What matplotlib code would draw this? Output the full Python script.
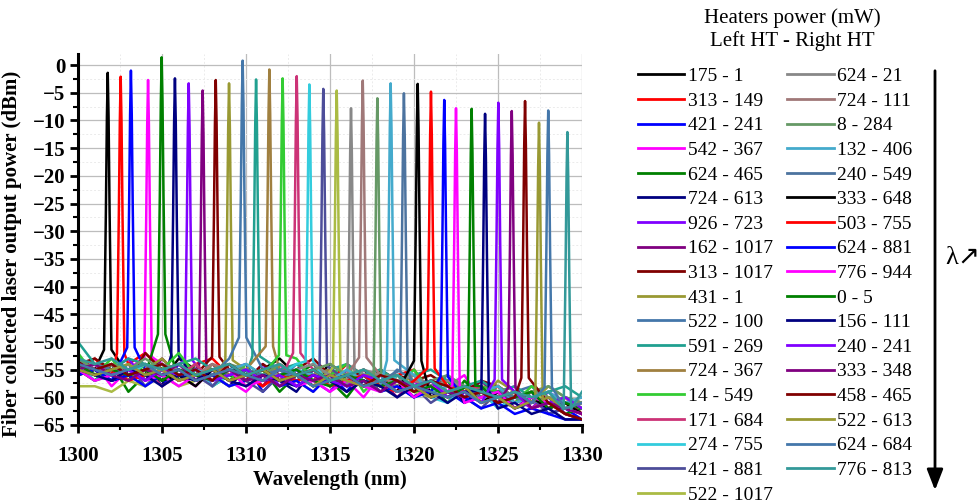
import numpy as np
import matplotlib
matplotlib.use("Agg")
import matplotlib.pyplot as plt
from matplotlib.ticker import MultipleLocator

# ---------------- data ----------------
labels = ["175 - 1", "313 - 149", "421 - 241", "542 - 367", "624 - 465", "724 - 613",
          "926 - 723", "162 - 1017", "313 - 1017", "431 - 1", "522 - 100", "591 - 269",
          "724 - 367", "14 - 549", "171 - 684", "274 - 755", "421 - 881", "522 - 1017",
          "624 - 21", "724 - 111", "8 - 284", "132 - 406", "240 - 549", "333 - 648",
          "503 - 755", "624 - 881", "776 - 944", "0 - 5", "156 - 111", "240 - 241",
          "333 - 348", "458 - 465", "522 - 613", "624 - 684", "776 - 813"]

colors = ["#000000", "#FF0000", "#0000FF", "#FF00FF", "#008000", "#000080",
          "#8000FF", "#800080", "#800000", "#999933", "#4477AA", "#20A090",
          "#A08040", "#33CC33", "#CC3377", "#33CCDD", "#4D4D99", "#AABB44",
          "#888888", "#A07878", "#669966", "#44AACC", "#4C739F", "#000000",
          "#FF0000", "#0000FF", "#FF00FF", "#008000", "#000080", "#8000FF",
          "#800080", "#800000", "#999933", "#4477AA", "#339999"]

peak_wl = [1301.77, 1302.54, 1303.15, 1304.17, 1304.98, 1305.77, 1306.59, 1307.42,
           1308.20, 1308.99, 1309.80, 1310.60, 1311.39, 1312.18, 1313.02, 1313.77,
           1314.60, 1315.40, 1316.25, 1316.95, 1317.82, 1318.61, 1319.40, 1320.22,
           1321.01, 1321.80, 1322.50, 1323.43, 1324.23, 1325.02, 1325.82, 1326.61,
           1327.44, 1327.99, 1329.13]

peak_pw = [-1.4, -2.1, -1.0, -2.7, 1.4, -2.4, -3.3, -4.6, -2.7, -3.3, 0.8, -2.6,
           -0.8, -2.4, -2.0, -3.5, -4.3, -4.6, -7.8, -2.8, -6.0, -3.3, -5.1, -3.4,
           -4.8, -6.3, -7.8, -7.9, -8.8, -6.8, -8.3, -6.5, -10.4, -8.2, -12.1]

# noise-floor samples, one per nm from 1300 to 1330
base_wl = [1300, 1301, 1302, 1303, 1304, 1305, 1306, 1307, 1308, 1309, 1310,
           1311, 1312, 1313, 1314, 1315, 1316, 1317, 1318, 1319, 1320,
           1321, 1322, 1323, 1324, 1325, 1326, 1327, 1328, 1329, 1330]

base_pw = [
    [-53,-55,-52,-56,-54,-57,-53,-55,-56,-54,-57,-55,-53,-56,-57,-54,-56,-58,-55,-57,-56,-58,-57,-59,-58,-60,-59,-61,-60,-62,-61],
    [-55,-53,-56,-54,-52,-55,-57,-54,-53,-56,-55,-58,-54,-56,-55,-57,-54,-56,-59,-56,-55,-59,-57,-58,-60,-58,-61,-59,-62,-60,-63],
    [-54,-56,-57,-53,-55,-58,-54,-56,-57,-55,-54,-59,-56,-55,-58,-56,-59,-55,-57,-58,-60,-57,-59,-61,-58,-62,-60,-59,-63,-62,-64],
    [-56,-54,-58,-55,-57,-54,-56,-58,-55,-57,-59,-56,-54,-58,-57,-55,-57,-60,-56,-59,-57,-60,-58,-56,-61,-59,-58,-62,-61,-60,-62],
    [-55,-57,-54,-59,-56,-55,-57,-54,-58,-56,-57,-55,-59,-56,-54,-57,-60,-56,-58,-56,-59,-58,-61,-57,-60,-59,-62,-60,-61,-63,-62],
    [-54,-55,-57,-56,-54,-58,-55,-57,-56,-58,-55,-56,-57,-59,-55,-58,-56,-57,-59,-57,-60,-58,-57,-61,-59,-60,-62,-61,-60,-63,-64],
    [-53,-56,-55,-53,-57,-56,-54,-55,-58,-55,-57,-54,-58,-55,-57,-59,-55,-58,-56,-58,-57,-59,-60,-58,-59,-61,-60,-62,-59,-61,-62],
    [-55,-54,-56,-55,-57,-53,-56,-55,-54,-57,-56,-58,-55,-57,-56,-55,-58,-56,-57,-60,-57,-58,-59,-60,-57,-60,-61,-59,-62,-61,-63],
    [-54,-53,-55,-57,-52,-55,-54,-56,-53,-55,-57,-54,-56,-55,-53,-56,-57,-55,-58,-56,-57,-56,-58,-59,-57,-58,-60,-59,-61,-62,-63],
    [-56,-55,-54,-56,-55,-53,-56,-54,-57,-56,-55,-57,-54,-56,-58,-55,-57,-56,-55,-58,-56,-59,-57,-58,-60,-57,-59,-61,-58,-60,-62],
    [-53,-55,-54,-56,-55,-54,-57,-55,-56,-53,-56,-55,-57,-54,-56,-55,-57,-56,-58,-55,-57,-58,-56,-59,-58,-60,-59,-58,-61,-60,-61],
    [-50,-54,-55,-53,-54,-55,-54,-53,-55,-54,-56,-54,-55,-54,-56,-55,-54,-56,-55,-57,-56,-55,-57,-58,-57,-59,-58,-60,-59,-58,-60],
    [-55,-54,-56,-55,-54,-56,-55,-57,-54,-56,-55,-56,-55,-57,-56,-55,-57,-56,-56,-58,-57,-58,-57,-59,-58,-59,-60,-59,-61,-60,-61],
    [-52,-56,-53,-57,-54,-55,-52,-56,-55,-57,-54,-56,-55,-53,-57,-56,-54,-59,-56,-58,-55,-59,-57,-60,-58,-59,-61,-58,-60,-61,-62],
    [-55,-56,-54,-57,-55,-58,-56,-54,-57,-55,-58,-56,-57,-59,-55,-57,-56,-58,-57,-59,-58,-57,-60,-59,-58,-61,-59,-62,-60,-61,-63],
    [-54,-57,-55,-56,-54,-57,-56,-55,-58,-56,-55,-57,-56,-54,-57,-58,-56,-57,-59,-56,-58,-60,-61,-58,-59,-62,-60,-59,-61,-60,-62],
    [-55,-57,-56,-54,-58,-55,-57,-56,-58,-55,-57,-59,-56,-57,-55,-58,-57,-56,-59,-57,-58,-61,-59,-60,-62,-59,-61,-60,-63,-62,-63],
    [-58,-58,-59,-57,-58,-56,-58,-57,-56,-58,-57,-56,-58,-57,-59,-57,-58,-57,-59,-58,-59,-60,-58,-60,-59,-61,-60,-59,-61,-60,-62],
    [-54,-55,-54,-55,-56,-54,-55,-56,-55,-54,-56,-55,-56,-55,-54,-56,-57,-55,-56,-57,-56,-58,-57,-58,-59,-58,-60,-59,-60,-61,-60],
    [-55,-54,-56,-55,-54,-57,-55,-56,-54,-55,-57,-56,-55,-56,-55,-58,-56,-57,-56,-58,-57,-58,-59,-58,-59,-60,-59,-61,-60,-61,-62],
    [-53,-55,-54,-55,-53,-55,-54,-56,-55,-54,-55,-56,-54,-56,-55,-54,-56,-55,-57,-56,-58,-57,-56,-58,-59,-58,-60,-59,-58,-60,-61],
    [-54,-56,-55,-54,-56,-55,-57,-55,-56,-55,-54,-56,-57,-55,-56,-57,-55,-57,-58,-57,-56,-59,-58,-60,-59,-58,-61,-60,-59,-61,-60],
    [-55,-54,-55,-56,-55,-54,-56,-55,-57,-56,-55,-56,-55,-57,-56,-57,-56,-58,-57,-56,-58,-57,-59,-58,-60,-59,-60,-61,-60,-62,-61],
    [-56,-55,-57,-56,-55,-57,-56,-58,-55,-57,-56,-55,-57,-56,-58,-57,-56,-58,-57,-59,-58,-60,-59,-58,-61,-59,-62,-60,-62,-61,-63],
    [-54,-56,-55,-57,-56,-55,-57,-56,-55,-57,-56,-58,-56,-57,-56,-58,-57,-56,-58,-59,-57,-60,-58,-59,-61,-60,-59,-62,-61,-63,-64],
    [-56,-55,-57,-56,-58,-56,-55,-57,-56,-58,-57,-56,-58,-57,-59,-56,-58,-57,-59,-58,-60,-59,-61,-60,-62,-61,-63,-62,-63,-64,-64],
    [-55,-57,-56,-55,-57,-56,-58,-56,-57,-55,-58,-57,-56,-58,-57,-59,-57,-58,-59,-57,-60,-58,-59,-61,-60,-59,-62,-60,-61,-62,-63],
    [-54,-56,-55,-56,-55,-57,-55,-56,-57,-55,-56,-57,-56,-55,-57,-58,-56,-57,-58,-57,-59,-58,-60,-59,-58,-61,-60,-59,-62,-61,-62],
    [-55,-56,-57,-55,-56,-58,-56,-57,-55,-57,-58,-56,-57,-58,-56,-57,-59,-57,-58,-60,-58,-59,-61,-59,-60,-62,-61,-63,-62,-64,-64],
    [-54,-55,-56,-55,-57,-55,-56,-55,-57,-56,-55,-57,-56,-58,-56,-57,-58,-56,-57,-59,-58,-57,-60,-59,-61,-60,-59,-62,-61,-60,-62],
    [-55,-54,-56,-57,-55,-56,-54,-57,-56,-55,-57,-56,-58,-56,-57,-56,-58,-57,-59,-57,-58,-60,-59,-60,-59,-61,-60,-62,-61,-62,-63],
    [-54,-55,-54,-56,-55,-54,-56,-55,-57,-54,-56,-55,-57,-56,-55,-57,-56,-58,-56,-57,-59,-57,-58,-60,-59,-61,-60,-62,-61,-63,-64],
    [-55,-56,-55,-54,-56,-55,-57,-56,-55,-57,-56,-55,-57,-56,-58,-56,-57,-58,-57,-59,-58,-60,-59,-58,-61,-60,-62,-61,-60,-62,-61],
    [-54,-55,-56,-55,-54,-56,-55,-57,-56,-55,-56,-57,-55,-56,-58,-57,-56,-58,-57,-59,-58,-59,-60,-59,-61,-60,-59,-61,-60,-62,-61],
    [-53,-54,-53,-55,-54,-55,-54,-56,-55,-54,-56,-55,-54,-56,-55,-57,-56,-55,-57,-56,-58,-57,-59,-58,-59,-60,-59,-60,-59,-58,-59],
]

# lasing-line profile: offset from peak (nm) and drop below peak (dB)
peak_dx = [-0.22, -0.11, -0.05, 0.0, 0.05, 0.11, 0.22]
peak_drop = [50, 25, 8, 0, 8, 25, 50]

legend_title = "Heaters power (mW)\nLeft HT - Right HT"
xlabel = "Wavelength (nm)"
ylabel = "Fiber collected laser output power (dBm)"

# ---------------- figure ----------------
W, H = 979, 504
fig = plt.figure(figsize=(W / 100, H / 100), dpi=100)
ax = fig.add_axes([78 / W, 1 - 425 / H, (582 - 78) / W, (425 - 54) / H])

serif = ["Liberation Serif", "DejaVu Serif"]

for i in range(len(labels)):
    bw = np.array(base_wl, dtype=float)
    bp = np.array(base_pw[i], dtype=float)
    keep = np.abs(bw - peak_wl[i]) > 0.45
    pw = peak_wl[i] + np.array(peak_dx)
    pp = peak_pw[i] - np.array(peak_drop)
    x = np.concatenate([bw[keep], pw])
    y = np.concatenate([bp[keep], pp])
    order = np.argsort(x)
    ax.plot(x[order], y[order], color=colors[i], lw=1.8, label=labels[i],
            solid_joinstyle="round", clip_on=True)

ax.set_xlim(1300, 1330)
ax.set_ylim(-65, 2)
ax.xaxis.set_major_locator(MultipleLocator(5))
ax.xaxis.set_minor_locator(MultipleLocator(2.5))
ax.yaxis.set_major_locator(MultipleLocator(5))
ax.yaxis.set_minor_locator(MultipleLocator(2.5))
ax.set_yticks(np.arange(-65, 1, 5))

ax.grid(True, which="major", color="#BDBDBD", lw=0.9)
ax.grid(True, which="minor", color="#EBEBEB", lw=0.7, ls=(0, (2, 2)))
ax.set_axisbelow(True)

for s in ["top", "right"]:
    ax.spines[s].set_visible(False)
for s in ["left", "bottom"]:
    ax.spines[s].set_linewidth(2.2)

ax.tick_params(which="major", direction="out", length=6, width=2, pad=3)
ax.tick_params(which="minor", direction="out", length=3.5, width=1.5)
ax.tick_params(axis="x", which="major", pad=9)
for lab in ax.get_xticklabels() + ax.get_yticklabels():
    lab.set_fontfamily(serif)
    lab.set_fontweight("bold")
    lab.set_fontsize(15)

ax.set_xlabel(xlabel, fontfamily=serif, fontweight="bold", fontsize=15, labelpad=3)
ax.set_ylabel(ylabel, fontfamily=serif, fontweight="bold", fontsize=15)
ax.yaxis.set_label_coords(-0.112, 0.46)

# legend title (separate text to match spacing)
fig.text(792 / W, 1 - 30 / H, legend_title, ha="center", va="center",
         family=serif, fontsize=15, linespacing=1.2)

handles, labs = ax.get_legend_handles_labels()
leg = fig.legend(handles, labs, ncol=2, loc="upper left",
                 bbox_to_anchor=(622 / W, 1 - 52 / H),
                 frameon=False,
                 prop={"family": serif, "size": 14},
                 handlelength=2.4, handletextpad=0.2, columnspacing=0.7,
                 labelspacing=0.36, borderpad=0.3)
for l in leg.get_lines():
    l.set_linewidth(2)

# wavelength-direction arrow
fig.add_artist(matplotlib.patches.FancyArrowPatch(
    (935 / W, 1 - 68 / H), (935 / W, 1 - 493 / H), transform=fig.transFigure,
    arrowstyle="-|>,head_length=0.9,head_width=0.35", lw=2, color="black",
    mutation_scale=14))
fig.text(945 / W, 1 - 258 / H, "λ↗", fontsize=19, va="center", ha="left",
         family=["Liberation Serif", "DejaVu Sans"])

fig.savefig("out.png", dpi=100)
